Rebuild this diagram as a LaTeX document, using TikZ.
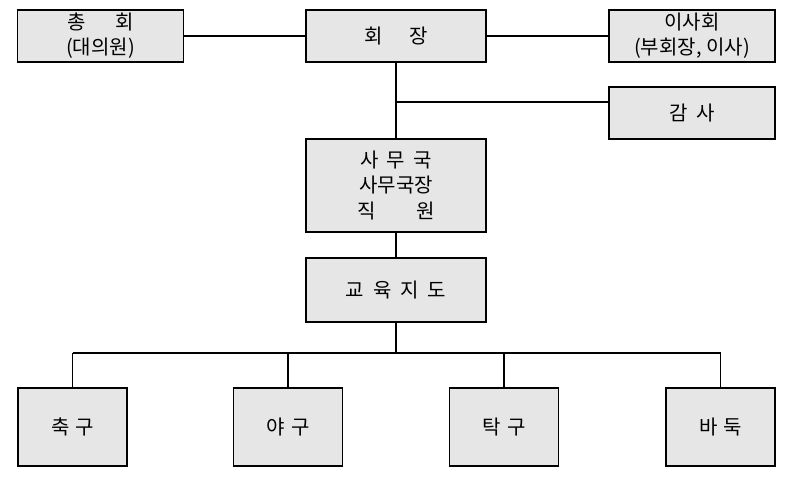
\documentclass[tikz,border=0pt]{standalone}
\usepackage{fontspec}
\setmainfont{Noto Sans CJK KR}
\usetikzlibrary{calc}
\tikzset{>=latex}
\definecolor{boxgray}{RGB}{230,230,230}
\tikzstyle{unit}=[rectangle,draw=black,fill=boxgray,align=center,inner sep=0pt,font=\fontsize{15}{19}\selectfont]
\tikzstyle{head}=[unit,minimum width=135pt,minimum height=39pt]
\tikzstyle{side}=[unit,minimum width=124.5pt,minimum height=39pt]
\tikzstyle{sport}=[unit,minimum width=81.75pt,minimum height=58.5pt]

\begin{document}
\begin{tikzpicture}[x=0.75pt,y=-0.75pt,line width=0.8pt]
	\useasboundingbox (0,0) rectangle (794,484);
	\node[side] (general) at (100.5,36) {총\hspace{1.5em}회\\(대의원)};
	\node[head] (president) at (396,36) {회\hspace{1.3em}장};
	\node[side] (board) at (692,36) {이사회\\(부회장, 이사)};
	\node[side] (auditor) at (692,113) {감\hspace{0.45em}사};
	\node[head,minimum height=69.75pt] (office) at (396,185.5) {사\hspace{0.4em}무\hspace{0.4em}국\\사무국장\\직\hspace{2em}원};
	\node[head,minimum height=48pt] (education) at (396,290) {교\hspace{0.45em}육\hspace{0.45em}지\hspace{0.45em}도};
	\node[sport] (soccer) at (72.5,427) {축\hspace{0.3em}구};
	\node[sport] (baseball) at (288,427) {야\hspace{0.3em}구};
	\node[sport] (pingpong) at (504,427) {탁\hspace{0.3em}구};
	\node[sport] (baduk) at (720.5,427) {바\hspace{0.3em}둑};
	\coordinate (branch) at (396,102);
	\coordinate (bus) at (396,353);
	
	\draw[-] (president) -- (general);
	\draw[-] (president) -- (board);
	\draw[-] (president) -- (office);
	\draw[-] (branch) -- (branch -| auditor.west);
	\draw[-] (office) -- (education);
	\draw[-] (education) -- (bus);
	\draw[-] (soccer.north |- bus) -- (baduk.north |- bus);
	\foreach \club in {soccer,baseball,pingpong,baduk}
		\draw[-] (\club.north) -- (\club.north |- bus);
\end{tikzpicture}
\end{document}
